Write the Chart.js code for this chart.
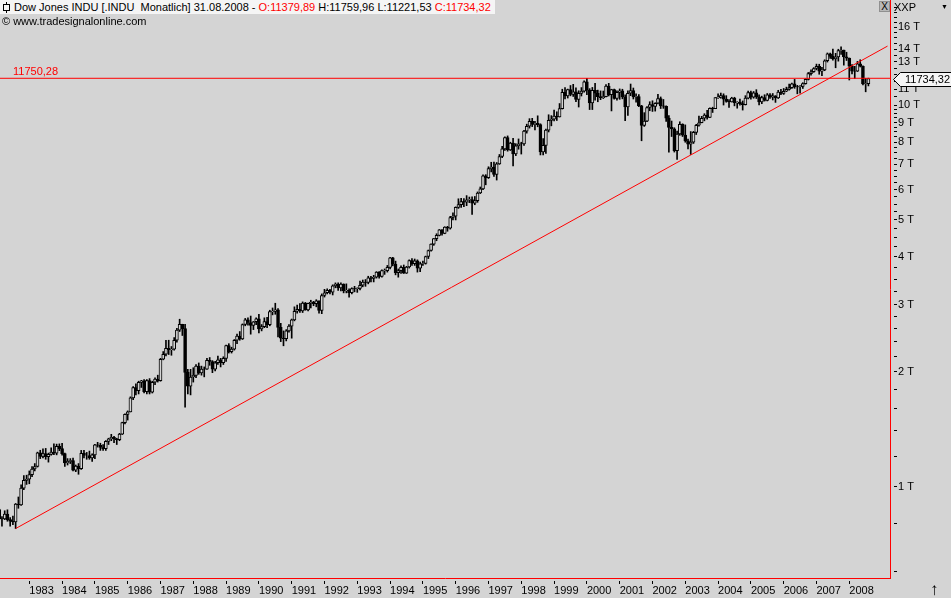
<!DOCTYPE html>
<html>
<head>
<meta charset="utf-8">
<script src="https://cdn.jsdelivr.net/npm/chart.js@4.4.0/dist/chart.umd.min.js"></script>
<style>
  html, body { margin: 0; padding: 0; background: #d4d4d4; overflow: hidden; }
  #wrap { position: relative; width: 951px; height: 598px; font-family: "Liberation Sans", Arial, sans-serif; font-size: 11px; color: #000; }
  #chart { position: absolute; left: 0; top: 0; }
  .title { position: absolute; left: 0; top: 0; height: 14px; line-height: 14px; padding: 0 4px 0 14px; background: #f5f5f5; white-space: pre; }
  .title .red { color: #ff0000; }
  .icon-line { position: absolute; left: 6px; top: 2px; width: 1px; height: 11px; background: #000; }
  .icon-box { position: absolute; left: 3px; top: 4px; width: 5px; height: 5px; border: 1px solid #000; background: #f5f5f5; }
  .copy { position: absolute; left: 2px; top: 15px; line-height: 13px; white-space: pre; }
  .close { position: absolute; left: 879px; top: 1px; width: 9px; height: 9px; border: 1px solid #909090; background: #b8b8b8; font-size: 10px; line-height: 9px; text-align: center; }
  .xxp { position: absolute; left: 894px; top: 1px; line-height: 12px; }
  .drop { position: absolute; left: 941px; top: 2px; font-size: 7px; line-height: 10px; }
  .arrow { position: absolute; left: 930px; top: 581px; font-size: 17px; line-height: 17px; }
</style>
</head>
<body>
<div id="wrap">
  <canvas id="chart" width="951" height="598"></canvas>
  <div class="title">Dow Jones INDU [.INDU  Monatlich] 31.08.2008 - <span class="red">O:11379,89</span> H:11759,96 L:11221,53 <span class="red">C:11734,32</span></div>
  <div class="icon-line"></div><div class="icon-box"></div>
  <div class="copy">© www.tradesignalonline.com</div>
  <div class="close">X</div>
  <div class="xxp">XXP</div>
  <div class="drop">▼</div>
  <div class="arrow">↑</div>
</div>
<script>
// monthly candles, first entry = Jan 1982
const firstYear = 1982;

const opens = [
  875, 871, 824, 823, 848, 820, 812, 809, 901, 896, 992, 1039,
  1047, 1076, 1113, 1130, 1226, 1200, 1222, 1199, 1216, 1233, 1225, 1276,
  1259, 1221, 1155, 1165, 1171, 1105, 1132, 1115, 1224, 1207, 1207, 1189,
  1212, 1287, 1284, 1267, 1258, 1315, 1335, 1347, 1334, 1329, 1374, 1472,
  1547, 1571, 1709, 1819, 1784, 1877, 1893, 1775, 1898, 1768, 1878, 1914,
  1896, 2158, 2224, 2305, 2286, 2292, 2419, 2572, 2663, 2596, 1994, 1834,
  1939, 1958, 2072, 1988, 2032, 2031, 2142, 2129, 2032, 2113, 2149, 2115,
  2169, 2342, 2258, 2294, 2419, 2480, 2440, 2661, 2737, 2693, 2645, 2706,
  2753, 2591, 2627, 2707, 2657, 2877, 2881, 2905, 2614, 2452, 2442, 2560,
  2634, 2736, 2882, 2914, 2888, 3028, 2907, 3025, 3044, 3017, 3069, 2895,
  3169, 3223, 3268, 3235, 3359, 3397, 3319, 3394, 3257, 3272, 3226, 3305,
  3301, 3310, 3371, 3435, 3428, 3527, 3516, 3539, 3651, 3555, 3681, 3684,
  3754, 3978, 3832, 3636, 3682, 3758, 3625, 3765, 3913, 3843, 3908, 3739,
  3834, 3844, 4011, 4158, 4321, 4465, 4556, 4708, 4611, 4789, 4755, 5074,
  5117, 5395, 5486, 5587, 5569, 5643, 5655, 5529, 5616, 5882, 6029, 6522,
  6448, 6813, 6878, 6583, 7009, 7331, 7673, 8223, 7622, 7945, 7442, 7823,
  7908, 7907, 8546, 8800, 9063, 8900, 8952, 8883, 7539, 7843, 8592, 9117,
  9181, 9359, 9307, 9786, 10789, 10560, 10971, 10655, 10829, 10337, 10730, 10878,
  11497, 10941, 10128, 10922, 10734, 10522, 10448, 10522, 11215, 10651, 10971, 10414,
  10788, 10887, 10495, 9879, 10735, 10912, 10502, 10523, 9950, 8848, 9075, 9852,
  10022, 9920, 10106, 10404, 9946, 9925, 9243, 8737, 8664, 7592, 8397, 8896,
  8342, 8054, 7891, 7992, 8480, 8850, 8985, 9234, 9416, 9275, 9801, 9782,
  10454, 10488, 10584, 10358, 10226, 10188, 10435, 10140, 10174, 10080, 10027, 10428,
  10783, 10490, 10766, 10504, 10193, 10467, 10275, 10641, 10482, 10569, 10440, 10806,
  10718, 10865, 10993, 11109, 11367, 11168, 11150, 11186, 11381, 11679, 12081, 12222,
  12463, 12622, 12269, 12354, 13063, 13628, 13409, 13212, 13358, 13896, 13930, 13372,
  13265, 12650, 12266, 12263, 12820, 12638, 11350, 11379.89
];

const highs = [
  882, 875, 835, 865, 870, 830, 838, 904, 940, 1012, 1070, 1072,
  1100, 1130, 1150, 1232, 1246, 1256, 1260, 1225, 1265, 1295, 1293, 1295,
  1300, 1225, 1185, 1185, 1188, 1140, 1150, 1245, 1245, 1230, 1240, 1220,
  1292, 1307, 1300, 1290, 1320, 1340, 1372, 1355, 1340, 1380, 1476, 1553,
  1580, 1720, 1830, 1860, 1890, 1900, 1910, 1910, 1920, 1890, 1930, 1960,
  2170, 2260, 2420, 2420, 2330, 2460, 2600, 2747, 2665, 2665, 2030, 2030,
  2050, 2090, 2110, 2070, 2060, 2170, 2180, 2140, 2130, 2200, 2170, 2190,
  2350, 2370, 2320, 2430, 2510, 2550, 2670, 2760, 2770, 2800, 2710, 2770,
  2830, 2660, 2770, 2780, 2900, 2940, 3025, 2930, 2680, 2560, 2580, 2660,
  2750, 2960, 2990, 3020, 3050, 3040, 3030, 3080, 3060, 3090, 3070, 3200,
  3290, 3300, 3290, 3380, 3420, 3420, 3420, 3400, 3400, 3300, 3320, 3350,
  3320, 3460, 3480, 3490, 3560, 3560, 3580, 3660, 3660, 3700, 3720, 3800,
  3990, 3990, 3900, 3720, 3790, 3810, 3780, 3930, 3960, 3950, 3930, 3880,
  3900, 4020, 4170, 4330, 4470, 4600, 4720, 4720, 4800, 4810, 5110, 5220,
  5410, 5680, 5700, 5690, 5790, 5740, 5750, 5760, 5920, 6100, 6560, 6570,
  6890, 7080, 7090, 7070, 7420, 7800, 8260, 8300, 7990, 8180, 7920, 8150,
  7990, 8580, 8910, 9210, 9230, 9070, 9370, 8930, 8170, 8650, 9430, 9380,
  9700, 9600, 10090, 11000, 11110, 11010, 11250, 11330, 11100, 10900, 11110, 11570,
  11750.28, 11040, 11120, 11400, 10940, 10890, 10880, 11310, 11400, 11000, 11010, 10900,
  11020, 11000, 10640, 10900, 11350, 11080, 10700, 10650, 9980, 9550, 9900, 10200,
  10260, 10140, 10670, 10500, 10340, 9950, 9380, 9080, 8720, 8540, 9040, 8930,
  8870, 8140, 8520, 8530, 8900, 9350, 9340, 9490, 9690, 9830, 9870, 10460,
  10700, 10750, 10700, 10580, 10330, 10480, 10480, 10200, 10370, 10250, 10580, 10870,
  10870, 10850, 10970, 10630, 10550, 10640, 10720, 10720, 10720, 10580, 10930, 10990,
  11050, 11140, 11340, 11420, 11670, 11260, 11250, 11440, 11720, 12170, 12360, 12530,
  12800, 12790, 12560, 13140, 13690, 13690, 14020, 13660, 14000, 14198, 13930, 13750,
  13280, 12760, 12630, 13010, 13140, 12660, 11750, 11759.96
];

const lows = [
  842, 818, 788, 820, 812, 788, 796, 777, 878, 893, 982, 1014,
  1018, 1062, 1100, 1126, 1185, 1190, 1180, 1160, 1210, 1213, 1212, 1243,
  1210, 1130, 1140, 1150, 1100, 1095, 1078, 1110, 1190, 1180, 1180, 1165,
  1185, 1270, 1245, 1245, 1245, 1290, 1320, 1305, 1290, 1320, 1370, 1460,
  1495, 1570, 1690, 1740, 1750, 1820, 1760, 1750, 1750, 1760, 1850, 1880,
  1890, 2150, 2200, 2220, 2210, 2280, 2390, 2550, 2490, 1616, 1750, 1740,
  1880, 1930, 1970, 1960, 1940, 2030, 2080, 1990, 2010, 2090, 2060, 2090,
  2130, 2240, 2240, 2280, 2370, 2420, 2430, 2640, 2650, 2510, 2580, 2660,
  2530, 2560, 2610, 2610, 2640, 2820, 2830, 2470, 2400, 2340, 2410, 2540,
  2450, 2720, 2850, 2860, 2860, 2900, 2890, 2940, 2980, 2960, 2850, 2840,
  3140, 3200, 3200, 3180, 3320, 3270, 3260, 3220, 3220, 3140, 3200, 3240,
  3230, 3280, 3340, 3350, 3400, 3440, 3440, 3520, 3520, 3540, 3600, 3650,
  3720, 3790, 3590, 3540, 3620, 3620, 3620, 3740, 3800, 3800, 3650, 3660,
  3800, 3830, 3960, 4140, 4290, 4410, 4540, 4560, 4600, 4670, 4730, 5000,
  5000, 5360, 5390, 5420, 5450, 5550, 5170, 5480, 5560, 5860, 6000, 6180,
  6420, 6680, 6500, 6360, 6990, 7280, 7600, 7570, 7600, 6930, 7370, 7660,
  7440, 7840, 8440, 8700, 8780, 8600, 8770, 7400, 7400, 7470, 8500, 8820,
  9080, 9110, 9300, 9760, 10370, 10430, 10570, 10530, 10200, 9880, 10560, 10800,
  10640, 9730, 9730, 10300, 10200, 10330, 10400, 10500, 10560, 9650, 10360, 10300,
  10350, 10380, 9100, 9390, 10580, 10370, 10170, 9900, 8060, 8790, 9040, 9660,
  9620, 9640, 10060, 9790, 9800, 9060, 7530, 8270, 7530, 7200, 8330, 8270,
  7990, 7670, 7420, 7930, 8370, 8800, 8980, 9090, 9180, 9270, 9560, 9780,
  10400, 10420, 10000, 10170, 9850, 10180, 9950, 9810, 9990, 9700, 10000, 10380,
  10360, 10420, 10400, 10000, 10080, 10240, 10250, 10400, 10310, 10160, 10400, 10650,
  10660, 10840, 10930, 11050, 11060, 10700, 10740, 11050, 11340, 11630, 11970, 12180,
  12360, 12040, 11940, 12300, 12960, 13250, 13100, 12520, 13030, 13560, 12720, 13080,
  11630, 12070, 11730, 12240, 12580, 11290, 10830, 11221.53
];

const closes = [
  871, 824, 823, 848, 820, 812, 809, 901, 896, 992, 1039, 1047,
  1076, 1113, 1130, 1226, 1200, 1222, 1199, 1216, 1233, 1225, 1276, 1259,
  1221, 1155, 1165, 1171, 1105, 1132, 1115, 1224, 1207, 1207, 1189, 1212,
  1287, 1284, 1267, 1258, 1315, 1335, 1347, 1334, 1329, 1374, 1472, 1547,
  1571, 1709, 1819, 1784, 1877, 1893, 1775, 1898, 1768, 1878, 1914, 1896,
  2158, 2224, 2305, 2286, 2292, 2419, 2572, 2663, 2596, 1994, 1834, 1939,
  1958, 2072, 1988, 2032, 2031, 2142, 2129, 2032, 2113, 2149, 2115, 2169,
  2342, 2258, 2294, 2419, 2480, 2440, 2661, 2737, 2693, 2645, 2706, 2753,
  2591, 2627, 2707, 2657, 2877, 2881, 2905, 2614, 2452, 2442, 2560, 2634,
  2736, 2882, 2914, 2888, 3028, 2907, 3025, 3044, 3017, 3069, 2895, 3169,
  3223, 3268, 3235, 3359, 3397, 3319, 3394, 3257, 3272, 3226, 3305, 3301,
  3310, 3371, 3435, 3428, 3527, 3516, 3539, 3651, 3555, 3681, 3684, 3754,
  3978, 3832, 3636, 3682, 3758, 3625, 3765, 3913, 3843, 3908, 3739, 3834,
  3844, 4011, 4158, 4321, 4465, 4556, 4708, 4611, 4789, 4755, 5074, 5117,
  5395, 5486, 5587, 5569, 5643, 5655, 5529, 5616, 5882, 6029, 6522, 6448,
  6813, 6878, 6583, 7009, 7331, 7673, 8223, 7622, 7945, 7442, 7823, 7908,
  7907, 8546, 8800, 9063, 8900, 8952, 8883, 7539, 7843, 8592, 9117, 9181,
  9359, 9307, 9786, 10789, 10560, 10971, 10655, 10829, 10337, 10730, 10878, 11497,
  10941, 10128, 10922, 10734, 10522, 10448, 10522, 11215, 10651, 10971, 10414, 10788,
  10887, 10495, 9879, 10735, 10912, 10502, 10523, 9950, 8848, 9075, 9852, 10022,
  9920, 10106, 10404, 9946, 9925, 9243, 8737, 8664, 7592, 8397, 8896, 8342,
  8054, 7891, 7992, 8480, 8850, 8985, 9234, 9416, 9275, 9801, 9782, 10454,
  10488, 10584, 10358, 10226, 10188, 10435, 10140, 10174, 10080, 10027, 10428, 10783,
  10490, 10766, 10504, 10193, 10467, 10275, 10641, 10482, 10569, 10440, 10806, 10718,
  10865, 10993, 11109, 11367, 11168, 11150, 11186, 11381, 11679, 12081, 12222, 12463,
  12622, 12269, 12354, 13063, 13628, 13409, 13212, 13358, 13896, 13930, 13372, 13265,
  12650, 12266, 12263, 12820, 12638, 11350, 11378, 11734.32
];

const yearLabels = ['1983', '1984', '1985', '1986', '1987', '1988', '1989', '1990', '1991', '1992',
  '1993', '1994', '1995', '1996', '1997', '1998', '1999', '2000', '2001', '2002',
  '2003', '2004', '2005', '2006', '2007', '2008'];

// labelled price ticks (shown as "x T") and the small unlabelled ones
const yLabelTicks = [1000, 2000, 3000, 4000, 5000, 6000, 7000, 8000, 9000, 10000, 11000, 13000, 14000, 16000];
const yMinorTicks = [600, 800, 1200, 1400, 1600, 1800, 2200, 2400, 2600, 2800,
  3250, 3500, 3750, 4250, 4500, 4750, 5250, 5500, 5750, 6250, 6500, 6750,
  7250, 7500, 7750, 8250, 8500, 8750, 9250, 9500, 9750, 10500, 11500, 12000, 12500,
  13500, 14500, 15000, 15500, 16500, 17000, 17500, 18000];

const supportLevel = 11750.28;
const lastClose = 11734.32;
// trend line from the 1982 low out past the last bar
const trendFrom = { x: 7, y: 777 };
const trendTo = { x: 326, y: 14270 };

// visible window (month index / price)
const xMin = 1.28, xMax = 326.9;
const yMin = 576.6, yMax = 18843;

const GREY = '#d4d4d4';
const FONT = '"Liberation Sans", Arial, sans-serif';

const wickData = closes.map((c, i) => ({ x: i, y: [lows[i], highs[i]] }));
const bodyData = closes.map((c, i) => ({ x: i, y: [opens[i], c] }));
const bodyFill = closes.map((c, i) => c >= opens[i] ? GREY : '#000000');

const fmt = v => v.toFixed(2).replace('.', ',');

const overlay = {
  id: 'overlay',
  afterDraw(chart) {
    const ctx = chart.ctx;
    const y = chart.scales.y;
    ctx.save();
    ctx.font = '11px ' + FONT;
    // level label on the left
    const ly = y.getPixelForValue(supportLevel);
    ctx.fillStyle = '#ff0000';
    ctx.textBaseline = 'bottom';
    ctx.textAlign = 'left';
    ctx.fillText(fmt(supportLevel), 13, ly - 1);
    // last price tag on the axis
    const ty = Math.round(y.getPixelForValue(lastClose)) + 0.5;
    ctx.beginPath();
    ctx.moveTo(893.5, ty);
    ctx.lineTo(900.5, ty - 7);
    ctx.lineTo(952, ty - 7);
    ctx.lineTo(952, ty + 7);
    ctx.lineTo(900.5, ty + 7);
    ctx.closePath();
    ctx.fillStyle = '#f5f5f5';
    ctx.fill();
    ctx.strokeStyle = '#000';
    ctx.lineWidth = 1;
    ctx.stroke();
    ctx.fillStyle = '#000';
    ctx.textBaseline = 'middle';
    ctx.fillText(fmt(lastClose), 905, ty + 0.5);
    ctx.restore();
  }
};

new Chart(document.getElementById('chart'), {
  type: 'bar',
  data: {
    datasets: [
      {
        type: 'line',
        data: [{ x: xMin, y: supportLevel }, { x: xMax, y: supportLevel }],
        borderColor: '#ff0000',
        borderWidth: 1,
        pointRadius: 0,
        order: 0
      },
      {
        type: 'line',
        data: [trendFrom, trendTo],
        borderColor: '#ff0000',
        borderWidth: 1,
        pointRadius: 0,
        order: 0
      },
      {
        data: bodyData,
        backgroundColor: bodyFill,
        borderColor: '#000000',
        borderWidth: 1,
        borderSkipped: false,
        barThickness: 3,
        grouped: false,
        order: 1
      },
      {
        data: wickData,
        backgroundColor: '#000000',
        borderWidth: 0,
        barThickness: 1,
        grouped: false,
        order: 2
      }
    ]
  },
  options: {
    responsive: false,
    animation: false,
    devicePixelRatio: 1,
    layout: { padding: 0 },
    plugins: { legend: { display: false }, tooltip: { enabled: false } },
    scales: {
      x: {
        type: 'linear',
        position: 'bottom',
        min: xMin,
        max: xMax,
        offset: false,
        grid: {
          offset: false,
          drawOnChartArea: false,
          drawTicks: true,
          tickLength: 6,
          color: '#000',
          tickBorderDash: [3, 50],
          tickBorderDashOffset: -2
        },
        border: { display: true, color: '#ff0000', width: 1 },
        ticks: {
          autoSkip: false,
          maxRotation: 0,
          align: 'start',
          padding: 0,
          color: '#000',
          font: { family: FONT, size: 11 },
          callback: v => {
            const yr = firstYear + v / 12;
            return yearLabels.includes(String(yr)) ? String(yr) : '';
          }
        },
        afterBuildTicks: s => { s.ticks = yearLabels.map(l => ({ value: (Number(l) - firstYear) * 12 })); },
        afterFit: s => { s.height = 20; s.paddingLeft = 0; s.paddingRight = 0; }
      },
      y: {
        type: 'logarithmic',
        position: 'right',
        min: yMin,
        max: yMax,
        grid: {
          drawOnChartArea: false,
          drawTicks: true,
          tickLength: 7,
          color: '#000',
          tickBorderDash: [3, 50],
          tickBorderDashOffset: -3
        },
        border: { display: true, color: '#ff0000', width: 1 },
        ticks: {
          autoSkip: false,
          padding: 1,
          color: '#000',
          font: { family: FONT, size: 11 },
          callback: v => yLabelTicks.includes(v) ? (v / 1000) + ' T' : ''
        },
        afterBuildTicks: s => {
          s.ticks = yLabelTicks.concat(yMinorTicks).sort((a, b) => a - b).map(v => ({ value: v }));
        },
        afterFit: s => { s.width = 61; s.paddingTop = 0; s.paddingBottom = 0; }
      }
    }
  },
  plugins: [overlay]
});
</script>
</body>
</html>
